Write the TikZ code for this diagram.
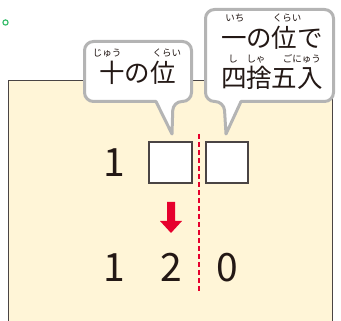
\documentclass[tikz,border=0pt]{standalone}
\usepackage{fontspec}
\newfontfamily\jp{Noto Sans CJK JP}
\definecolor{cream}{HTML}{FFF5D7}
\definecolor{bubgray}{HTML}{B4B4B4}
\definecolor{frame}{HTML}{4A4444}
\definecolor{redarrow}{HTML}{E6002D}
\definecolor{dotgreen}{HTML}{3CBE6E}
\definecolor{ink}{HTML}{231815}
\tikzset{
  bubble/.style={draw=bubgray, line width=3pt, fill=white, rounded corners=9pt, line join=round},
  ruby/.style={inner sep=0pt, font=\jp\fontsize{9.5}{10}\selectfont, text=ink},
  bigtext/.style={inner sep=0pt, font=\jp\fontsize{25.5}{26}\selectfont, text=ink},
  digit/.style={inner sep=0pt, font=\jp\fontsize{39}{40}\selectfont, text=ink},
  cell/.style={draw=frame, line width=1.4pt, fill=white}
}
\begin{document}
\begin{tikzpicture}[x=1pt,y=-1pt]
\useasboundingbox (0,0) rectangle (341,321);
% green dot
\draw[dotgreen, line width=1.2pt] (5.5,22.5) circle (2.6pt);
% cream panel
\fill[cream] (8,80) rectangle (333,325);
\draw[frame, line width=1.3pt] (8.6,325) -- (8.6,80.6) -- (332.4,80.6) -- (332.4,325);
% bubble 1
\draw[bubble] (156,101.5) -- (84.5,101.5) -- (84.5,41.5) -- (191.5,41.5) -- (191.5,101.5)
  -- (173,101.5) [sharp corners] -- (172,134) -- (156,101.5) -- cycle;
\node[bigtext] (t1) at (137.5,73) {十の位};
\node[ruby] (r1a) at (107,53) {じゅう};
\node[ruby] (r1b) at (167,53) {くらい};
% bubble 2
\draw[bubble] (241,101.5) -- (333.5,101.5) -- (333.5,9.5) -- (205.5,9.5) -- (205.5,101.5)
  -- (224,101.5) [sharp corners] -- (226,134) -- (241,101.5) -- cycle;
\node[bigtext] (t2) at (272,38) {一の位で};
\node[bigtext] (t3) at (272,78) {四捨五入};
\node[ruby] (r2a) at (235,18) {いち};
\node[ruby] (r2b) at (287,18) {くらい};
\node[ruby] (r3a) at (233,59) {し};
\node[ruby] (r3b) at (256,59) {しゃ};
\node[ruby] (r3c) at (302,59) {ごにゅう};
% dashed line
\coordinate (dtop) at (199,134);
\coordinate (dbot) at (199,292);
\draw[redarrow, line width=1.3pt, dash pattern=on 5pt off 3pt] (dtop) -- (dbot);
% top row
\node[digit] (one1) at (114,162.5) {1};
\node[cell, minimum width=43pt, minimum height=41pt, inner sep=0pt] (c1) at (170.5,162.5) {};
\node[cell, minimum width=42pt, minimum height=41pt, inner sep=0pt] (c2) at (227,162.5) {};
% red arrow
\fill[redarrow] (167,202) -- (175,202) -- (175,221) -- (182,221) -- (171,233) -- (160,221) -- (167,221) -- cycle;
% bottom row
\node[digit] (one2) at (114,267.5) {1};
\node[digit] (two) at (171,267.5) {2};
\node[digit] (zero) at (227,267.5) {0};
\end{tikzpicture}
\end{document}
